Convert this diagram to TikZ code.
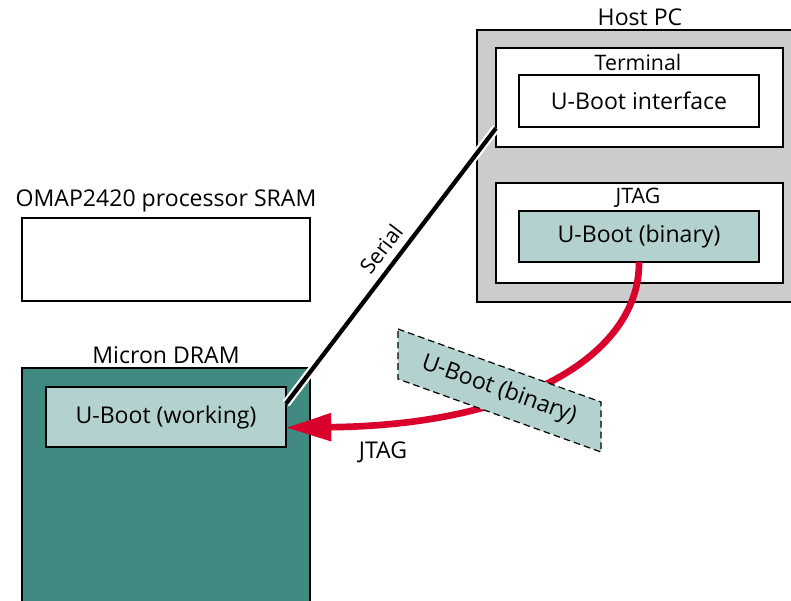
\documentclass[tikz,border=0pt]{standalone}
\usepackage{fontspec}
\setmainfont{Open Sans}
\usetikzlibrary{arrows.meta,calc}
\definecolor{darkteal}{HTML}{408A82}
\definecolor{lightteal}{HTML}{B3D2CF}
\definecolor{hostgray}{HTML}{CCCCCC}
\definecolor{jtagred}{HTML}{D9002B}
\tikzset{
  box/.style={draw=black, line width=0.9pt, inner sep=0pt, outer sep=0pt, anchor=north west},
  lbl/.style={font=\fontsize{17.3}{20}\selectfont, inner sep=0pt},
  slbl/.style={font=\fontsize{16}{19}\selectfont, inner sep=0pt},
}
\begin{document}
\begin{tikzpicture}[x=0.75pt,y=-0.75pt]
\useasboundingbox (0,0) rectangle (791,600);
\begin{scope}
\clip (0,0) rectangle (791,600);
% Host PC
\node[box, fill=hostgray, minimum width={320*0.75pt}, minimum height={272*0.75pt}] (host) at (477,30) {};
\node[lbl] (hostl) at (640,17) {Host PC};
\node[box, fill=white, minimum width={287*0.75pt}, minimum height={99*0.75pt}] (term) at (496,48) {};
\node[slbl] (terml) at (638,62) {Terminal};
\node[box, fill=white, minimum width={240*0.75pt}, minimum height={52*0.75pt}] (ubi) at (519,75) {};
\node[lbl] at (ubi.center) {U-Boot interface};
\node[box, fill=white, minimum width={287*0.75pt}, minimum height={100*0.75pt}] (jtag) at (496,183) {};
\node[slbl] (jtagl) at (638,198) {JTAG};
\node[box, fill=lightteal, minimum width={240*0.75pt}, minimum height={51*0.75pt}] (bin) at (519,211) {};
\node[lbl] at (bin.center) {U-Boot (binary)};
% OMAP SRAM
\node[lbl] (omapl) at (166,201) {OMAP2420 processor SRAM};
\node[box, fill=white, minimum width={288*0.75pt}, minimum height={83*0.75pt}] (sram) at (22,218) {};
% Micron DRAM
\node[lbl] (draml) at (166,355) {Micron DRAM};
\node[box, fill=darkteal, minimum width={288*0.75pt}, minimum height={240*0.75pt}] (dram) at (22,368) {};
\node[box, fill=lightteal, minimum width={240*0.75pt}, minimum height={60*0.75pt}] (work) at (46,387) {};
\node[lbl] at (work.center) {U-Boot (working)};
% Serial
\draw[white, line width=6.5pt] ([yshift=10pt]work.east) -- ([yshift=-23pt]term.west);
\draw[black, line width=3.2pt] ([yshift=10pt]work.east) -- ([yshift=-23pt]term.west);
\node[slbl, rotate=52.6] (seriall) at (381,249) {Serial};
% JTAG transfer
\draw[jtagred, line width=5pt, -{Triangle[length=34pt,width=20pt]}]
  (bin.south) .. controls (640,350) and (530,425) .. ([yshift=-8pt]work.east);
\node[lbl] (jtagt) at (383,452) {JTAG};
% binary in transit
\path[draw=black, fill=lightteal, line width=0.9pt, dash pattern=on 5pt off 3pt]
  (398,329) -- (601,402) -- (601,452) -- (398,379) -- cycle;
\node[lbl, rotate=-19.8] (trans) at (499,390) {U-Boot (binary)};
\end{scope}
\end{tikzpicture}
\end{document}
